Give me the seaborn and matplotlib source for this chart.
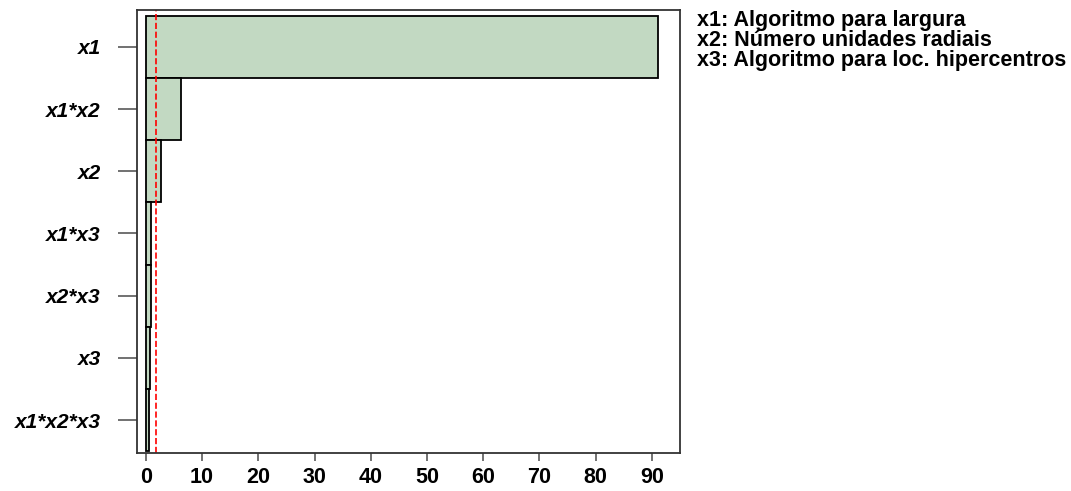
import matplotlib
matplotlib.use("Agg")
import matplotlib.pyplot as plt
import seaborn as sns
import pandas as pd

# effects (Pareto chart)
terms = ["x1", "x1*x2", "x2", "x1*x3", "x2*x3", "x3", "x1*x2*x3"]
effects = [91.1, 6.3, 2.7, 0.9, 0.85, 0.8, 0.6]
limit = 1.85
legend_lines = ["x1: Algoritmo para largura",
                "x2: Número unidades radiais",
                "x3: Algoritmo para loc. hipercentros"]

sns.set_style("white")
plt.rcParams["font.family"] = ["Liberation Sans", "DejaVu Sans"]
plt.rcParams["text.color"] = "black"

df = pd.DataFrame({"term": terms, "effect": effects})

fig = plt.figure(figsize=(10.71, 4.91), dpi=100)
ax = fig.add_axes([0.128, 0.0774, 0.507, 0.902])

sns.barplot(data=df, x="effect", y="term", orient="h", width=1.0,
            color="#c2d9c2", edgecolor="black", linewidth=1.3,
            saturation=1, ax=ax)
ax.axvline(limit, color="red", linestyle="--", linewidth=1.2)

ax.set_xlim(-1.55, 95.0)
ax.set_ylim(6.53, -0.59)
ax.set_xticks(range(0, 100, 10))
ax.set_xlabel("")
ax.set_ylabel("")
ax.tick_params(axis="x", bottom=True, length=6, width=1.3, color="#666666",
               labelcolor="black", labelsize=15.5, pad=4)
ax.tick_params(axis="y", left=True, length=14, width=1.3, color="#666666",
               labelcolor="black", labelsize=15, pad=12)
for lab in ax.get_xticklabels():
    lab.set_fontweight("bold")
for lab in ax.get_yticklabels():
    lab.set_fontweight("bold")
    lab.set_fontstyle("italic")
for sp in ax.spines.values():
    sp.set_color("#333333")
    sp.set_linewidth(1.3)

fig.text(0.651, 0.98, "\n".join(legend_lines), ha="left", va="top",
         fontsize=15.5, fontweight="bold", linespacing=0.93, color="black")

fig.savefig("out.png", dpi=100, facecolor="white")
